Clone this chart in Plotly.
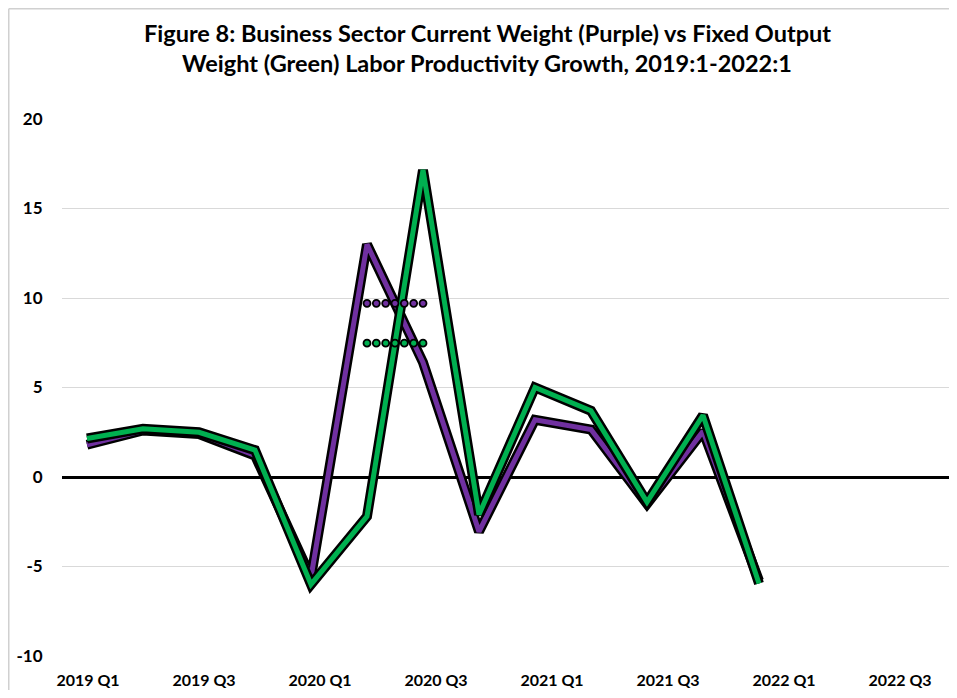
import numpy as np
import plotly.graph_objects as go

quarters = ["2019 Q1", "2019 Q2", "2019 Q3", "2019 Q4",
            "2020 Q1", "2020 Q2", "2020 Q3", "2020 Q4",
            "2021 Q1", "2021 Q2", "2021 Q3", "2021 Q4",
            "2022 Q1", "2022 Q2", "2022 Q3", "2022 Q4"]
current_weight = [1.8, 2.6, 2.4, 1.2, -5.6, 13.0, 6.4, -3.05, 3.2, 2.65, -1.5, 2.55, -5.8]
fixed_output = [2.15, 2.7, 2.5, 1.5, -6.0, -2.2, 17.15, -2.1, 5.0, 3.7, -1.4, 3.45, -5.95]
y_ticks = [-10, -5, 0, 5, 10, 15, 20]
title_lines = ["Figure 8: Business Sector Current Weight (Purple) vs Fixed Output",
               "Weight (Green) Labor Productivity Growth, 2019:1-2022:1"]
avg_window = ["2020 Q2", "2020 Q3"]

PURPLE = "#7030A0"
GREEN = "#00B050"
FONT = "Lato, Carlito, DejaVu Sans Condensed, sans-serif"

# page is offset by the default 8px body margin
O = 8
FW, FH = 941, 682
PL, PR, PT, PB = 62, 949, 119, 656   # plot box in page pixels
L, R, T, B = PL - O, FW - (PR - O), PT - O, FH - (PB - O)
plot_w = PR - PL
plot_h = PB - PT


def px_to_paper_x(px):
    return (px - PL) / plot_w


def py_to_paper_y(py):
    return (PB - py) / plot_h


xs_p = list(range(len(current_weight)))
xs_g = list(range(len(fixed_output)))

fig = go.Figure()

# invisible trace so the label axis exists
fig.add_trace(go.Scatter(x=[0, len(quarters) - 1], y=[None, None], xaxis="x2",
                         mode="lines", showlegend=False, hoverinfo="skip"))

for xs, ys, col in [(xs_p, current_weight, PURPLE), (xs_g, fixed_output, GREEN)]:
    fig.add_trace(go.Scatter(x=xs, y=ys, mode="lines",
                             line=dict(color="black", width=10),
                             showlegend=False, hoverinfo="skip"))
    fig.add_trace(go.Scatter(x=xs, y=ys, mode="lines",
                             line=dict(color=col, width=5),
                             showlegend=False))

# average over the 2020 Q2-Q3 window (dotted markers)
i0, i1 = quarters.index(avg_window[0]), quarters.index(avg_window[1])
for ys, col in [(current_weight, PURPLE), (fixed_output, GREEN)]:
    avg = float(np.mean(ys[i0:i1 + 1]))
    dx = np.linspace(i0, i1, 7)
    fig.add_trace(go.Scatter(x=dx, y=[avg] * len(dx), mode="markers",
                             marker=dict(color=col, size=7,
                                         line=dict(color="black", width=1.8)),
                             showlegend=False))

# chart border (left + top)
bx = px_to_paper_x(8.75)
by_top = py_to_paper_y(8.75)
fig.add_shape(type="line", xref="paper", yref="paper", x0=bx, x1=bx,
              y0=py_to_paper_y(FH + O + 5), y1=by_top,
              line=dict(color="#d0d0d0", width=1.5), layer="below")
fig.add_shape(type="line", xref="paper", yref="paper", x0=bx, x1=px_to_paper_x(953),
              y0=by_top, y1=by_top,
              line=dict(color="#d0d0d0", width=1.5), layer="below")

for i, t in enumerate(title_lines):
    fig.add_annotation(text="<b>" + t + "</b>", xref="paper", yref="paper",
                       x=px_to_paper_x(487), y=py_to_paper_y(33 + 30 * i),
                       xanchor="center", yanchor="middle", showarrow=False,
                       font=dict(family=FONT, size=23.5, color="black"))

data_scale = 56.0
lab_scale = 58.0
fig.update_layout(
    width=FW, height=FH,
    margin=dict(l=L, r=R, t=T, b=B, pad=0, autoexpand=False),
    paper_bgcolor="white", plot_bgcolor="white",
    showlegend=False,
    xaxis=dict(range=[-(87 - PL) / data_scale, (plot_w - (87 - PL)) / data_scale],
               showticklabels=False, showgrid=False, zeroline=False, showline=False,
               ticks=""),
    xaxis2=dict(overlaying="x", anchor="y", side="bottom",
                range=[-(88 - PL) / lab_scale, (plot_w - (88 - PL)) / lab_scale],
                tickvals=list(range(0, len(quarters), 2)),
                ticktext=["<b>" + q + "</b>" for q in quarters[::2]],
                ticks="outside", ticklen=10, tickcolor="rgba(0,0,0,0)",
                showgrid=False, zeroline=False, showline=False,
                tickfont=dict(family=FONT, size=16, color="black")),
    yaxis=dict(range=[-10, 20], tickvals=y_ticks,
               ticktext=["<b>" + str(v) + "</b>" for v in y_ticks],
               showgrid=True, gridcolor="#d9d9d9", gridwidth=1,
               zeroline=True, zerolinecolor="black", zerolinewidth=2.6,
               ticks="outside", ticklen=15, tickcolor="rgba(0,0,0,0)",
               showline=False,
               tickfont=dict(family=FONT, size=17, color="black")),
)

fig.write_html("out.html")
